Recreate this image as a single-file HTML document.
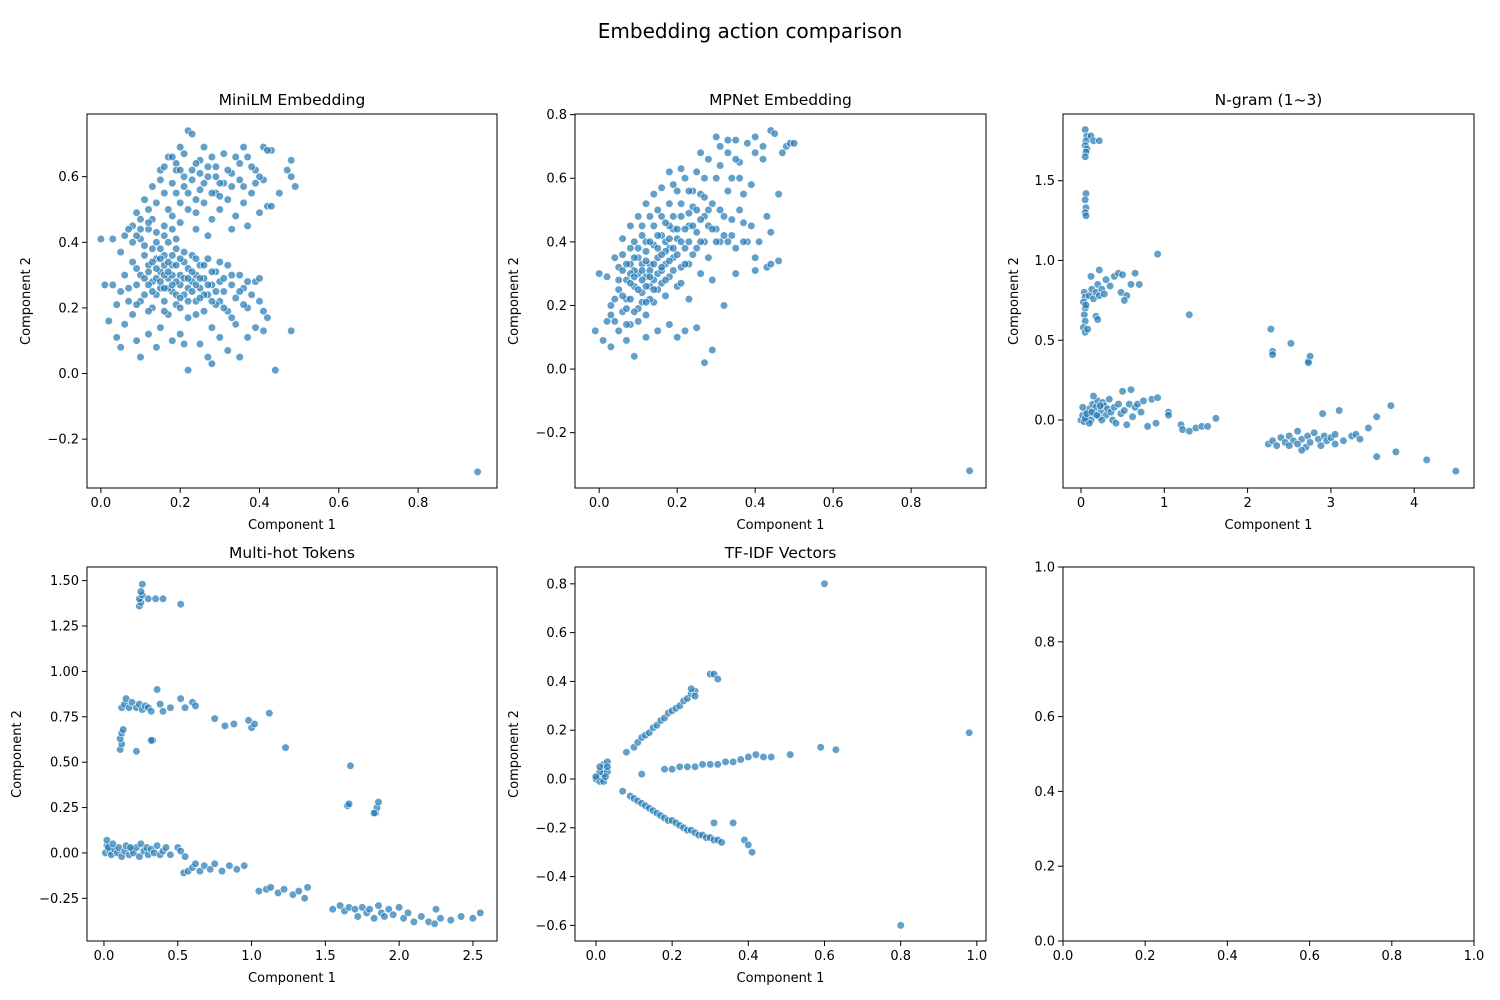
<!DOCTYPE html>
<html><head><meta charset="utf-8"><style>
html,body{margin:0;padding:0;background:#fff;}
svg{display:block;font-family:"DejaVu Sans","Liberation Sans",sans-serif;}
</style></head><body>
<svg id="fig" width="1500" height="1000" viewBox="0 0 1500 1000">
<rect width="1500" height="1000" fill="#fff"/>
<text x="750" y="38" text-anchor="middle" font-size="20" fill="#000">Embedding action comparison</text>
</svg>
<script>
const minilmPoints = [[0.08,0.45],[0.10,0.47],[0.12,0.50],[0.14,0.52],[0.16,0.55],[0.18,0.58],[0.15,0.62],[0.17,0.66],[0.19,0.64],[0.21,0.60],[0.23,0.62],[0.25,0.65],[0.27,0.60],[0.29,0.63],[0.31,0.58],[0.33,0.61],[0.35,0.64],[0.37,0.66],[0.39,0.62],[0.41,0.59],[0.43,0.68],[0.42,0.51],[0.40,0.49],[0.38,0.55],[0.36,0.52],[0.34,0.48],[0.32,0.53],[0.30,0.50],[0.28,0.47],[0.26,0.52],[0.24,0.49],[0.22,0.55],[0.20,0.52],[0.18,0.48],[0.16,0.45],[0.14,0.43],[0.12,0.44],[0.10,0.41],[0.08,0.40],[0.06,0.42],[0.05,0.37],[0.03,0.41],[0.13,0.57],[0.11,0.53],[0.09,0.49],[0.21,0.67],[0.22,0.74],[0.23,0.73],[0.20,0.69],[0.26,0.69],[0.28,0.66],[0.31,0.67],[0.34,0.66],[0.36,0.69],[0.41,0.69],[0.42,0.68],[0.48,0.65],[0.47,0.62],[0.48,0.60],[0.49,0.57],[0.45,0.55],[0.43,0.51],[0.37,0.45],[0.33,0.44],[0.27,0.42],[0.24,0.44],[0.19,0.41],[0.17,0.40],[0.15,0.38],[0.25,0.56],[0.29,0.55],[0.19,0.62],[0.13,0.47],[0.07,0.44],[0.11,0.39],[0.36,0.57],[0.40,0.60],[0.30,0.58],[0.27,0.63],[0.38,0.63],
[0.14,0.40],[0.16,0.42],[0.18,0.44],[0.20,0.46],[0.22,0.50],[0.24,0.53],[0.26,0.58],[0.28,0.55],[0.30,0.54],[0.33,0.57],[0.35,0.59],[0.17,0.50],[0.19,0.55],[0.21,0.57],[0.23,0.59],[0.25,0.61],[0.15,0.59],[0.16,0.63],[0.18,0.66],[0.12,0.46],[0.10,0.44],[0.09,0.42],[0.20,0.62],[0.24,0.64],[0.29,0.60],[0.32,0.62],[0.39,0.58],
[0.05,0.25],[0.07,0.22],[0.09,0.27],[0.10,0.30],[0.11,0.24],[0.12,0.33],[0.13,0.28],[0.13,0.20],[0.14,0.35],[0.15,0.26],[0.15,0.31],[0.16,0.22],[0.16,0.36],[0.17,0.29],[0.17,0.18],[0.18,0.33],[0.18,0.25],[0.19,0.38],[0.19,0.21],[0.20,0.30],[0.20,0.27],[0.21,0.34],[0.21,0.24],[0.22,0.17],[0.22,0.32],[0.23,0.28],[0.23,0.36],[0.24,0.22],[0.24,0.30],[0.25,0.26],[0.25,0.33],[0.26,0.19],[0.26,0.29],[0.27,0.24],[0.27,0.35],[0.28,0.27],[0.28,0.14],[0.29,0.31],[0.30,0.22],[0.30,0.28],[0.31,0.25],[0.32,0.19],[0.32,0.33],[0.33,0.27],[0.34,0.23],[0.34,0.15],[0.35,0.30],[0.36,0.26],[0.37,0.20],[0.38,0.24],[0.39,0.28],[0.40,0.22],[0.41,0.19],[0.40,0.29],[0.39,0.14],[0.41,0.13],[0.42,0.17],[0.08,0.18],[0.06,0.15],[0.04,0.21],[0.03,0.27],[0.02,0.16],[0.05,0.08],[0.09,0.10],[0.10,0.05],[0.12,0.12],[0.14,0.08],[0.15,0.14],[0.18,0.10],[0.20,0.12],[0.21,0.09],[0.22,0.01],[0.25,0.09],[0.27,0.05],[0.28,0.03],[0.30,0.11],[0.32,0.07],[0.35,0.05],[0.37,0.11],[0.44,0.01],[0.48,0.13],[0.11,0.36],[0.13,0.38],[0.16,0.33],[0.19,0.28],[0.14,0.24],[0.17,0.26],[0.12,0.27],[0.22,0.26],[0.24,0.35],[0.18,0.30],[0.26,0.24],[0.29,0.21],[0.31,0.29],[0.33,0.17],[0.36,0.21],[0.06,0.30],[0.08,0.34],[0.04,0.11],[0.01,0.27],[0.00,0.41],
[0.12,0.31],[0.13,0.34],[0.14,0.29],[0.14,0.32],[0.15,0.28],[0.15,0.35],[0.16,0.30],[0.16,0.26],[0.17,0.34],[0.17,0.31],[0.18,0.27],[0.18,0.36],[0.19,0.24],[0.19,0.33],[0.20,0.35],[0.20,0.23],[0.21,0.29],[0.21,0.37],[0.22,0.29],[0.22,0.22],[0.23,0.25],[0.23,0.31],[0.24,0.27],[0.25,0.29],[0.25,0.23],[0.26,0.33],[0.27,0.27],[0.28,0.31],[0.28,0.22],[0.29,0.25],[0.30,0.34],[0.31,0.20],[0.33,0.30],[0.35,0.25],[0.37,0.28],[0.11,0.29],[0.10,0.22],[0.09,0.32],[0.07,0.26],[0.13,0.25],[0.16,0.19],[0.20,0.20],[0.24,0.18],[0.12,0.19],[0.09,0.21],
[0.95,-0.30]];

const mpnetPoints = [[0.00,0.30],[0.02,0.29],[0.03,0.20],[0.04,0.15],[0.05,0.25],[0.05,0.32],[0.06,0.18],[0.06,0.36],[0.07,0.28],[0.07,0.22],[0.08,0.33],[0.08,0.14],[0.09,0.40],[0.09,0.26],[0.10,0.30],[0.10,0.19],[0.10,0.35],[0.11,0.24],[0.11,0.42],[0.12,0.29],[0.12,0.37],[0.12,0.17],[0.13,0.33],[0.13,0.26],[0.14,0.45],[0.14,0.21],[0.14,0.39],[0.15,0.30],[0.15,0.35],[0.16,0.27],[0.16,0.48],[0.16,0.42],[0.17,0.33],[0.17,0.23],[0.18,0.38],[0.18,0.52],[0.18,0.29],[0.19,0.44],[0.19,0.35],[0.20,0.41],[0.20,0.56],[0.20,0.26],[0.21,0.48],[0.21,0.32],[0.22,0.38],[0.22,0.60],[0.23,0.45],[0.23,0.22],[0.24,0.51],[0.24,0.36],[0.25,0.43],[0.25,0.62],[0.26,0.30],[0.26,0.55],[0.27,0.48],[0.27,0.40],[0.28,0.66],[0.28,0.35],[0.29,0.52],[0.29,0.28],[0.30,0.44],[0.30,0.60],[0.31,0.70],[0.31,0.40],[0.32,0.48],[0.32,0.20],[0.33,0.68],[0.33,0.56],[0.34,0.42],[0.35,0.72],[0.35,0.38],[0.36,0.50],[0.36,0.65],[0.37,0.46],[0.38,0.71],[0.38,0.40],[0.39,0.58],[0.40,0.68],[0.40,0.35],[0.41,0.40],[0.42,0.66],[0.43,0.48],[0.44,0.75],[0.45,0.74],[0.44,0.43],[0.46,0.55],[0.47,0.68],[0.48,0.70],[0.49,0.71],[0.50,0.71],[0.43,0.32],[0.44,0.33],[0.46,0.34],[0.40,0.31],[0.35,0.30],[0.29,0.06],[0.27,0.02],[0.25,0.13],[0.22,0.12],[0.20,0.10],[0.18,0.14],[0.15,0.12],[0.12,0.10],[0.09,0.04],[0.07,0.09],[0.03,0.07],[0.01,0.09],[-0.01,0.12],[0.02,0.15],[0.04,0.35],[0.06,0.41],[0.08,0.45],[0.10,0.48],[0.12,0.52],[0.14,0.55],[0.16,0.57],[0.18,0.62],[0.13,0.31],[0.11,0.28],[0.09,0.31],[0.08,0.27],[0.13,0.22],[0.15,0.25],[0.17,0.37],[0.19,0.31],[0.21,0.27],[0.23,0.33],[0.25,0.38],[0.28,0.45],[0.31,0.50],[0.34,0.47],[0.37,0.55],[0.26,0.68],[0.30,0.73],[0.36,0.60],[0.11,0.33],[0.14,0.28],[0.16,0.31],[0.12,0.40],[0.18,0.45],
[0.05,0.28],[0.06,0.31],[0.06,0.23],[0.07,0.33],[0.07,0.19],[0.08,0.30],[0.08,0.22],[0.09,0.35],[0.09,0.29],[0.10,0.25],[0.10,0.38],[0.11,0.31],[0.11,0.21],[0.12,0.34],[0.12,0.26],[0.13,0.40],[0.13,0.29],[0.14,0.33],[0.14,0.25],[0.15,0.38],[0.15,0.42],[0.16,0.36],[0.16,0.32],[0.17,0.40],[0.17,0.28],[0.18,0.34],[0.18,0.41],[0.19,0.38],[0.19,0.48],[0.20,0.36],[0.20,0.44],[0.21,0.40],[0.21,0.52],[0.22,0.44],[0.22,0.33],[0.23,0.49],[0.23,0.40],[0.24,0.45],[0.24,0.56],[0.25,0.50],[0.26,0.47],[0.26,0.40],[0.27,0.54],[0.28,0.50],[0.29,0.44],[0.30,0.40],[0.32,0.42],[0.33,0.40],[0.34,0.60],[0.35,0.66],[0.37,0.40],[0.39,0.45],[0.04,0.22],[0.03,0.17],[0.05,0.12],[0.07,0.14],[0.10,0.15],[0.12,0.21],[0.09,0.18],[0.08,0.38],[0.11,0.45],[0.13,0.48],[0.15,0.50],[0.17,0.46],[0.19,0.58],[0.21,0.63],[0.23,0.56],[0.27,0.60],[0.31,0.64],[0.33,0.72],[0.40,0.73],[0.42,0.70],
[0.95,-0.32]];

const ngramPoints = [[0.05,1.82],[0.07,1.78],[0.06,1.75],[0.05,1.72],[0.07,1.70],[0.06,1.68],[0.05,1.65],[0.12,1.78],[0.15,1.75],[0.22,1.75],[0.06,1.42],[0.05,1.38],[0.06,1.33],[0.05,1.30],[0.06,1.28],
[0.04,0.80],[0.05,0.77],[0.03,0.74],[0.05,0.70],[0.04,0.66],[0.05,0.62],[0.03,0.58],[0.05,0.55],[0.06,0.72],[0.08,0.57],
[0.10,0.78],[0.13,0.82],[0.15,0.76],[0.18,0.80],[0.20,0.85],[0.22,0.78],[0.25,0.82],[0.28,0.79],[0.30,0.88],[0.22,0.94],[0.18,0.65],[0.20,0.63],[0.35,0.84],[0.40,0.90],[0.45,0.92],[0.50,0.91],[0.48,0.80],[0.55,0.78],[0.52,0.75],[0.60,0.85],[0.65,0.92],[0.70,0.85],[0.92,1.04],[1.30,0.66],[0.12,0.90],
[0.00,0.00],[0.02,0.03],[0.04,-0.01],[0.06,0.05],[0.08,0.02],[0.10,0.07],[0.12,0.00],[0.14,0.10],[0.16,0.04],[0.18,0.08],[0.20,0.12],[0.22,0.02],[0.24,0.06],[0.26,0.11],[0.28,0.09],[0.30,0.03],[0.32,0.07],[0.34,0.13],[0.36,0.05],[0.38,0.00],[0.40,0.08],[0.42,-0.02],[0.45,0.10],[0.48,0.04],[0.50,0.18],[0.52,0.06],[0.55,-0.03],[0.58,0.10],[0.60,0.19],[0.62,0.02],[0.65,0.08],[0.68,0.10],[0.72,0.05],[0.75,0.12],[0.80,-0.04],[0.85,0.13],[0.90,-0.02],[0.92,0.14],[1.05,0.05],[1.05,0.03],[1.20,-0.03],[1.22,-0.06],[1.30,-0.07],[1.38,-0.05],[1.45,-0.04],[1.52,-0.04],[1.62,0.01],[0.15,0.15],[0.02,0.08],[0.10,-0.02],[0.25,0.00],[0.05,0.01],[0.07,0.04],[0.13,0.05],[0.19,0.03],[0.23,0.09],
[2.25,-0.15],[2.30,-0.13],[2.35,-0.16],[2.40,-0.11],[2.45,-0.14],[2.50,-0.10],[2.55,-0.13],[2.60,-0.07],[2.65,-0.12],[2.70,-0.17],[2.72,-0.10],[2.75,-0.14],[2.80,-0.08],[2.85,-0.12],[2.88,-0.16],[2.92,-0.10],[2.95,-0.13],[3.00,-0.11],[3.05,-0.09],[3.05,-0.15],[3.15,-0.13],[3.25,-0.10],[3.30,-0.09],[3.35,-0.12],[3.45,-0.05],[3.55,0.02],[3.72,0.09],[3.55,-0.23],[3.78,-0.20],[4.15,-0.25],[4.50,-0.32],[2.90,0.04],[3.10,0.06],[2.28,0.57],[2.30,0.43],[2.30,0.41],[2.52,0.48],[2.73,0.37],[2.75,0.40],[2.73,0.36],[2.65,-0.19],[2.50,-0.16],[2.60,-0.15]];

const multihotPoints = [[0.24,1.36],[0.25,1.38],[0.24,1.40],[0.26,1.42],[0.25,1.44],[0.26,1.48],[0.30,1.40],[0.35,1.40],[0.40,1.40],[0.52,1.37],
[0.12,0.80],[0.14,0.82],[0.15,0.85],[0.17,0.80],[0.19,0.83],[0.22,0.80],[0.24,0.82],[0.26,0.79],[0.28,0.81],[0.30,0.80],[0.32,0.78],[0.36,0.90],[0.38,0.82],[0.40,0.78],[0.45,0.80],[0.52,0.85],[0.55,0.80],[0.60,0.83],[0.62,0.81],[0.75,0.74],[0.82,0.70],[0.88,0.71],[0.98,0.73],[1.00,0.69],[1.02,0.71],[1.12,0.77],[1.23,0.58],
[0.11,0.57],[0.12,0.60],[0.11,0.63],[0.12,0.66],[0.13,0.68],[0.33,0.62],[0.32,0.62],[0.22,0.56],
[0.01,0.00],[0.02,0.04],[0.02,0.07],[0.04,0.01],[0.05,-0.01],[0.07,0.02],[0.09,0.00],[0.10,0.03],[0.12,-0.02],[0.14,0.01],[0.15,0.04],[0.17,-0.01],[0.19,0.02],[0.20,0.00],[0.22,0.03],[0.24,-0.02],[0.25,0.05],[0.27,0.01],[0.29,0.03],[0.30,-0.01],[0.32,0.02],[0.34,0.00],[0.36,0.04],[0.38,-0.01],[0.40,0.01],[0.42,0.03],[0.45,-0.01],[0.03,0.03],[0.06,0.05],[0.18,0.03],
[0.50,0.03],[0.52,0.01],[0.55,-0.02],[0.54,-0.11],[0.57,-0.10],[0.60,-0.08],[0.62,-0.06],[0.65,-0.10],[0.68,-0.07],[0.72,-0.09],[0.75,-0.06],[0.80,-0.10],[0.85,-0.07],[0.90,-0.09],[0.95,-0.07],[1.05,-0.21],[1.10,-0.20],[1.13,-0.19],[1.18,-0.22],[1.22,-0.20],[1.28,-0.23],[1.32,-0.21],[1.36,-0.25],[1.38,-0.19],[1.55,-0.31],[1.60,-0.29],[1.63,-0.32],[1.66,-0.30],[1.70,-0.31],[1.72,-0.35],[1.75,-0.30],[1.78,-0.33],[1.80,-0.31],[1.83,-0.36],[1.86,-0.29],[1.88,-0.33],[1.90,-0.35],[1.93,-0.31],[1.96,-0.34],[2.00,-0.30],[2.03,-0.36],[2.06,-0.33],[2.10,-0.38],[2.15,-0.35],[2.20,-0.38],[2.25,-0.31],[2.28,-0.36],[2.35,-0.37],[2.42,-0.35],[2.50,-0.36],[2.55,-0.33],[2.24,-0.39],
[1.65,0.26],[1.66,0.27],[1.67,0.48],[1.84,0.22],[1.85,0.25],[1.86,0.28],[1.83,0.22]];

const tfidfPoints = [[0.00,0.00],[0.01,0.01],[0.01,-0.01],[0.02,0.02],[0.02,0.04],[0.03,0.03],[0.02,0.06],[0.03,0.07],[0.01,0.03],[0.00,0.01],[0.02,-0.01],[0.03,0.05],[0.01,0.05],[0.025,0.01],
[0.08,0.11],[0.10,0.13],[0.11,0.15],[0.12,0.17],[0.13,0.18],[0.14,0.19],[0.15,0.21],[0.16,0.22],[0.17,0.24],[0.18,0.25],[0.19,0.27],[0.20,0.28],[0.21,0.29],[0.22,0.30],[0.23,0.32],[0.24,0.33],[0.25,0.35],[0.26,0.36],[0.25,0.37],[0.26,0.34],
[0.18,0.04],[0.20,0.04],[0.22,0.05],[0.24,0.05],[0.26,0.05],[0.28,0.06],[0.30,0.06],[0.32,0.06],[0.34,0.07],[0.36,0.07],[0.38,0.08],[0.40,0.09],[0.42,0.10],[0.44,0.09],[0.46,0.09],[0.51,0.10],
[0.07,-0.05],[0.09,-0.07],[0.10,-0.08],[0.11,-0.09],[0.12,-0.10],[0.13,-0.11],[0.14,-0.12],[0.15,-0.13],[0.16,-0.14],[0.17,-0.15],[0.18,-0.16],[0.19,-0.17],[0.20,-0.17],[0.21,-0.18],[0.22,-0.19],[0.23,-0.20],[0.24,-0.21],[0.25,-0.21],[0.26,-0.22],[0.27,-0.23],[0.28,-0.23],[0.29,-0.24],[0.30,-0.24],[0.31,-0.25],[0.32,-0.25],[0.33,-0.26],[0.31,-0.18],[0.36,-0.18],[0.39,-0.25],[0.40,-0.27],[0.41,-0.30],
[0.60,0.80],[0.98,0.19],[0.80,-0.60],[0.59,0.13],[0.63,0.12],[0.30,0.43],[0.31,0.43],[0.32,0.41],[0.12,0.02]];

const ticksP1x = [0,0.2,0.4,0.6,0.8], labelsP1x = ["0.0","0.2","0.4","0.6","0.8"];
const ticksP1y = [-0.2,0,0.2,0.4,0.6], labelsP1y = ["\u22120.2","0.0","0.2","0.4","0.6"];
const ticksP2x = [0,0.2,0.4,0.6,0.8], labelsP2x = ["0.0","0.2","0.4","0.6","0.8"];
const ticksP2y = [-0.2,0,0.2,0.4,0.6,0.8], labelsP2y = ["\u22120.2","0.0","0.2","0.4","0.6","0.8"];
const ticksP3x = [0,1,2,3,4], labelsP3x = ["0","1","2","3","4"];
const ticksP3y = [0,0.5,1.0,1.5], labelsP3y = ["0.0","0.5","1.0","1.5"];
const ticksP4x = [0,0.5,1,1.5,2,2.5], labelsP4x = ["0.0","0.5","1.0","1.5","2.0","2.5"];
const ticksP4y = [-0.25,0,0.25,0.5,0.75,1,1.25,1.5], labelsP4y = ["\u22120.25","0.00","0.25","0.50","0.75","1.00","1.25","1.50"];
const ticksP5x = [0,0.2,0.4,0.6,0.8,1.0], labelsP5x = ["0.0","0.2","0.4","0.6","0.8","1.0"];
const ticksP5y = [-0.6,-0.4,-0.2,0,0.2,0.4,0.6,0.8], labelsP5y = ["\u22120.6","\u22120.4","\u22120.2","0.0","0.2","0.4","0.6","0.8"];
const ticksP6 = [0,0.2,0.4,0.6,0.8,1.0], labelsP6 = ["0.0","0.2","0.4","0.6","0.8","1.0"];

const NS = "http://www.w3.org/2000/svg";
const svg = document.getElementById("fig");
function mk(tag, attrs, parent){const e=document.createElementNS(NS,tag);for(const k in attrs)e.setAttribute(k,attrs[k]);parent.appendChild(e);return e;}

const panels = [
 {name:"minilm",title:"MiniLM Embedding",box:[87,114,497,488],xd:[-0.035,0.999],yd:[-0.349,0.791],pts:minilmPoints,xt:ticksP1x,xl:labelsP1x,yt:ticksP1y,yl:labelsP1y,ylabX:30},
 {name:"mpnet",title:"MPNet Embedding",box:[575,114,986,488],xd:[-0.062,0.992],yd:[-0.374,0.802],pts:mpnetPoints,xt:ticksP2x,xl:labelsP2x,yt:ticksP2y,yl:labelsP2y,ylabX:518},
 {name:"ngram",title:"N-gram (1~3)",box:[1063,114,1474,488],xd:[-0.216,4.718],yd:[-0.426,1.918],pts:ngramPoints,xt:ticksP3x,xl:labelsP3x,yt:ticksP3y,yl:labelsP3y,ylabX:1018},
 {name:"multihot",title:"Multi-hot Tokens",box:[87,567,497,941],xd:[-0.115,2.663],yd:[-0.485,1.575],pts:multihotPoints,xt:ticksP4x,xl:labelsP4x,yt:ticksP4y,yl:labelsP4y,ylabX:21},
 {name:"tfidf",title:"TF-IDF Vectors",box:[575,567,986,941],xd:[-0.055,1.024],yd:[-0.664,0.869],pts:tfidfPoints,xt:ticksP5x,xl:labelsP5x,yt:ticksP5y,yl:labelsP5y,ylabX:518},
 {name:"empty",title:null,box:[1063,567,1474,941],xd:[0,1],yd:[0,1],pts:[],xt:ticksP6,xl:labelsP6,yt:ticksP6,yl:labelsP6,ylabX:null}
];

panels.forEach(p=>{
  const [x0,y0,x1,y1]=p.box;
  const sx=v=>x0+(v-p.xd[0])/(p.xd[1]-p.xd[0])*(x1-x0);
  const sy=v=>y1-(v-p.yd[0])/(p.yd[1]-p.yd[0])*(y1-y0);
  const g=mk("g",{},svg);
  
  
  const pg=mk("g",{},g);
  
  
  p.pts.forEach(d=>{
    const c=mk("circle",{cx:sx(d[0]).toFixed(1),cy:sy(d[1]).toFixed(1),r:3.8,fill:"#1f77b4","fill-opacity":0.7,stroke:"#fff","stroke-width":0.6},pg);
    
    
  });
  const fr=mk("rect",{x:x0,y:y0,width:x1-x0,height:y1-y0,fill:"none",stroke:"#000","stroke-width":1},g);
  
  
  p.xt.forEach((t,i)=>{
    const x=sx(t);
    mk("line",{x1:x,x2:x,y1:y1,y2:y1+5,stroke:"#000","stroke-width":1},g);
    const tx=mk("text",{x:x,y:y1+19,"text-anchor":"middle","font-size":13},g);
    tx.textContent=p.xl[i];
    
    
  });
  p.yt.forEach((t,i)=>{
    const y=sy(t);
    mk("line",{x1:x0-5,x2:x0,y1:y,y2:y,stroke:"#000","stroke-width":1},g);
    const tx=mk("text",{x:x0-8,y:y+4.5,"text-anchor":"end","font-size":13},g);
    tx.textContent=p.yl[i];
    
    
  });
  if(p.title){
    const tt=mk("text",{x:(x0+x1)/2,y:y0-9,"text-anchor":"middle","font-size":15.5},g);
    tt.textContent=p.title;
    
    
    const xl=mk("text",{x:(x0+x1)/2,y:y1+41,"text-anchor":"middle","font-size":13},g);
    xl.textContent="Component 1";
    
    
    const yc=(y0+y1)/2;
    const yl=mk("text",{x:p.ylabX,y:yc,"text-anchor":"middle","font-size":13,transform:"rotate(-90 "+p.ylabX+" "+yc+")"},g);
    yl.textContent="Component 2";
    
    
  }
});
</script>
</body></html>
